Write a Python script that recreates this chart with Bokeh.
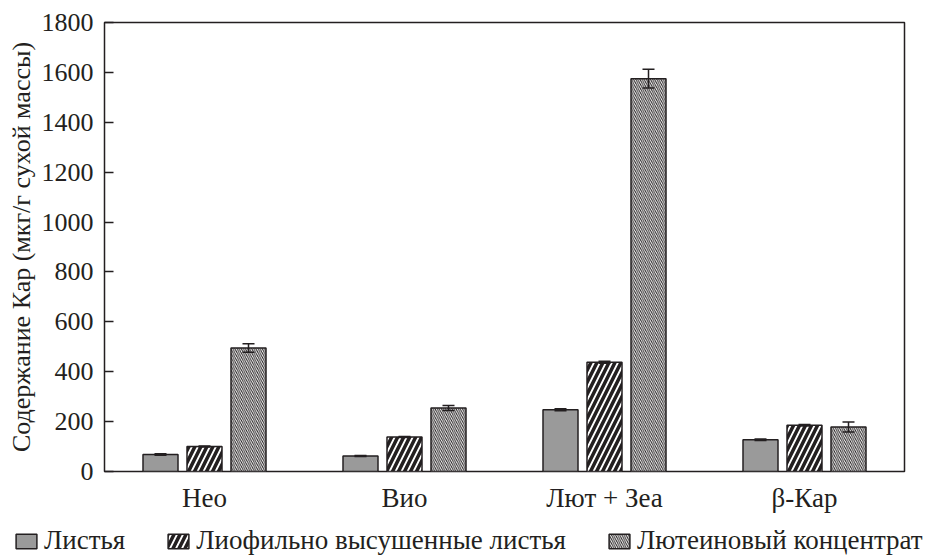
from bokeh.plotting import figure
from bokeh.layouts import column, row
from bokeh.models import (ColumnDataSource, FactorRange, Range1d, FixedTicker,
                          Whisker, TeeHead, Legend, LegendItem)
from bokeh.transform import dodge
from bokeh.embed import file_html
from bokeh.resources import INLINE

# Carotenoid content, µg/g dry weight
pigments = ["Нео", "Вио", "Лют + Зеа", "β-Кар"]
leaves = [68, 62, 248, 127]
leaves_err = [3, 2, 4, 3]
freeze_dried = [100, 138, 438, 185]
freeze_dried_err = [2, 2, 4, 3]
lutein_conc = [495, 255, 1575, 178]
lutein_conc_err = [17, 10, 38, 20]

series_labels = ["Листья", "Лиофильно высушенные листья", "Лютеиновый концентрат"]
y_ticks = [0, 200, 400, 600, 800, 1000, 1200, 1400, 1600, 1800]

FONT = "Liberation Serif"
INK = "#231f20"

p = figure(width=928, height=515, x_range=FactorRange(factors=pigments, range_padding=0),
           y_range=Range1d(0, 1800), output_backend="svg", toolbar_location=None,
           min_border_left=104, min_border_right=24, min_border_top=22, min_border_bottom=44)

p.outline_line_color = INK
p.outline_line_width = 1.5
p.grid.visible = False

styles = [
    dict(fill_color="#9a9a9a"),
    dict(fill_color="white", hatch_pattern="/", hatch_color=INK, hatch_scale=12, hatch_weight=3.5),
    dict(fill_color="white", hatch_pattern="\\", hatch_color=INK, hatch_scale=4.2, hatch_weight=1),
]
series = [(leaves, leaves_err, -0.22), (freeze_dried, freeze_dried_err, 0.0),
          (lutein_conc, lutein_conc_err, 0.22)]

for (vals, errs, off), style in zip(series, styles):
    src = ColumnDataSource(dict(cat=pigments, val=vals,
                                upper=[v + e for v, e in zip(vals, errs)],
                                lower=[v - e for v, e in zip(vals, errs)]))
    p.vbar(x=dodge("cat", off, range=p.x_range), top="val", bottom=0, width=0.175,
           source=src, line_color=INK, line_width=1.5, **style)
    w = Whisker(source=src, base=dodge("cat", off, range=p.x_range), upper="upper", lower="lower",
                level="overlay", line_color=INK, line_width=1.5,
                upper_head=TeeHead(size=12, line_color=INK, line_width=1.5),
                lower_head=TeeHead(size=12, line_color=INK, line_width=1.5))
    p.add_layout(w)

# axes
p.yaxis.ticker = FixedTicker(ticks=y_ticks)
p.yaxis.major_tick_in = 9
p.yaxis.major_tick_out = 0
p.yaxis.minor_tick_line_color = None
p.yaxis.axis_line_color = None
p.yaxis.major_tick_line_color = INK
p.yaxis.major_tick_line_width = 1.5
p.yaxis.major_label_standoff = 11
p.yaxis.major_label_text_font_size = "26px"
p.yaxis.axis_label = "Содержание Кар (мкг/г сухой массы)"
p.yaxis.axis_label_standoff = 3
p.yaxis.axis_label_text_font_size = "26px"
p.yaxis.axis_label_text_font_style = "normal"

p.xaxis.major_tick_line_color = None
p.xaxis.minor_tick_line_color = None
p.xaxis.axis_line_color = None
p.xaxis.major_label_standoff = 5
p.xaxis.major_label_text_font_size = "27px"

for ax in (p.xaxis[0], p.yaxis[0]):
    ax.major_label_text_font = FONT
    ax.major_label_text_color = INK
    ax.axis_label_text_font = FONT
    ax.axis_label_text_color = INK

# legend strip under the chart; swatch renderers hold no drawable point
lg = figure(width=928, height=42, x_range=Range1d(0, 1), y_range=Range1d(0, 1),
            output_backend="svg", toolbar_location=None,
            x_axis_location=None, y_axis_location=None,
            min_border_left=0, min_border_right=0, min_border_top=0, min_border_bottom=0)
lg.grid.visible = False
lg.outline_line_color = None
nan = float("nan")
swatches = [lg.vbar(x=[nan], top=[nan], width=0.1, line_color=INK, line_width=1.5, **s)
            for s in styles]
legend = Legend(items=[LegendItem(label=l, renderers=[r]) for l, r in zip(series_labels, swatches)],
                orientation="horizontal", location=(13, 1),
                label_text_font=FONT, label_text_font_size="27px", label_text_color=INK,
                glyph_width=26, glyph_height=18, label_standoff=5, spacing=40,
                border_line_color=None, background_fill_alpha=0, padding=0, margin=0)
lg.add_layout(legend, "center")

layout = column(p, row(lg), spacing=0)
open("out.html", "w").write(file_html(layout, INLINE))
